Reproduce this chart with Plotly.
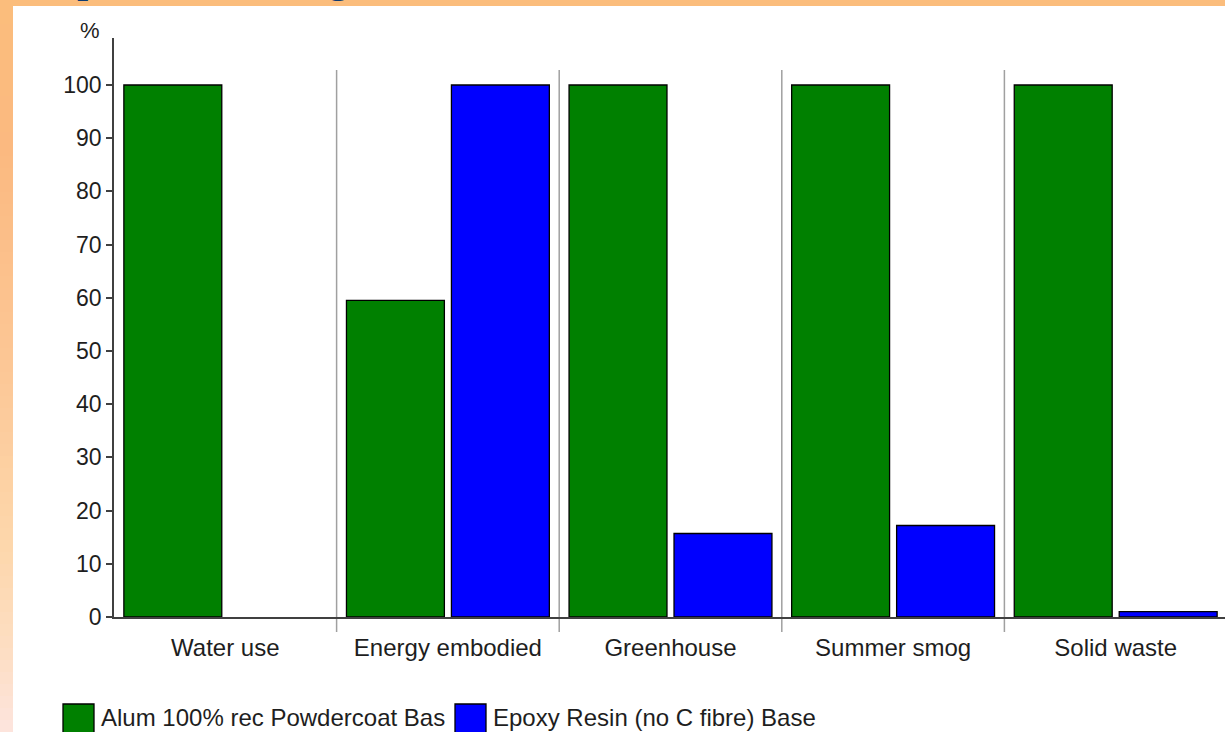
import plotly.graph_objects as go

# ---- data ----
categories = ["Water use", "Energy embodied", "Greenhouse", "Summer smog", "Solid waste"]
series_names = ["Alum 100% rec Powdercoat Base", "Epoxy Resin (no C fibre) Base"]
legend_labels = ["Alum 100% rec Powdercoat Bas", "Epoxy Resin (no C fibre) Base"]
alum_values = [100, 59.5, 100, 100, 100]
epoxy_values = [0, 100, 15.7, 17.2, 1.0]
y_ticks = [0, 10, 20, 30, 40, 50, 60, 70, 80, 90, 100]
y_axis_title = "%"

# ---- geometry / style ----
W, H = 1225, 732
L, R, T, B = 114, 0, 38, 115
PW, PH = W - L - R, H - T - B
CAT_PX = 222.6
x_range = [-0.5, -0.5 + PW / CAT_PX]
y_max = 100 * PH / 532.0
y_range = [0, y_max]

def px_x(p):
    return (p - L) / PW

def px_y(p):
    return (H - B - p) / PH

def cat_to_paper(c):
    return (c - x_range[0]) / (x_range[1] - x_range[0])

FONT = "Liberation Sans, Arial, sans-serif"
TXT = "#1e1e1e"
colors = ["#008000", "#0000FF"]

fig = go.Figure()
for name, vals, col in zip(series_names, [alum_values, epoxy_values], colors):
    fig.add_trace(go.Bar(
        x=categories, y=vals, name=name,
        marker=dict(color=col,
                    line=dict(color="#000000",
                              width=[0 if v == 0 else 1.3 for v in vals])),
        showlegend=False,
    ))

shapes = []
# category separators
for k in range(len(categories) - 1):
    xp = cat_to_paper(k + 0.5)
    shapes.append(dict(type="line", xref="paper", yref="paper",
                       x0=xp, x1=xp, y0=px_y(632), y1=px_y(70),
                       line=dict(color="#a0a0a0", width=1.5), layer="below"))

# orange slide border (top strip + left gradient strip)
shapes.append(dict(type="rect", xref="paper", yref="paper",
                   x0=px_x(0), x1=px_x(W), y0=px_y(6), y1=px_y(0),
                   fillcolor="#fbbd7c", line=dict(width=0), layer="above"))
stops = [(0, (251, 189, 124)), (150, (251, 185, 128)), (350, (252, 198, 148)),
         (550, (253, 215, 172)), (650, (253, 222, 195)), (732, (253, 228, 222))]
n = 61
for i in range(n):
    y0 = i * H / n
    y1 = (i + 1) * H / n
    ym = (y0 + y1) / 2
    for (a, ca), (b, cb) in zip(stops[:-1], stops[1:]):
        if a <= ym <= b:
            t = (ym - a) / (b - a)
            c = tuple(int(round(ca[j] + (cb[j] - ca[j]) * t)) for j in range(3))
            break
    shapes.append(dict(type="rect", xref="paper", yref="paper",
                       x0=px_x(0), x1=px_x(13), y0=px_y(y1 + 0.5), y1=px_y(y0),
                       fillcolor="rgb(%d,%d,%d)" % c, line=dict(width=0), layer="above"))

# legend swatches
sw_x = [63, 455]
for sx, col in zip(sw_x, colors):
    shapes.append(dict(type="rect", xref="paper", yref="paper",
                       x0=px_x(sx), x1=px_x(sx + 31), y0=px_y(736), y1=px_y(704),
                       fillcolor=col, line=dict(color="#000000", width=1.3), layer="above"))

annotations = []
for sx, lab in zip(sw_x, legend_labels):
    annotations.append(dict(xref="paper", yref="paper", x=px_x(sx + 36), y=px_y(718),
                            xanchor="left", yanchor="middle", text=lab, showarrow=False,
                            font=dict(family=FONT, size=24, color=TXT)))
annotations.append(dict(xref="paper", yref="paper", x=px_x(90), y=px_y(30),
                        xanchor="center", yanchor="middle", text=y_axis_title, showarrow=False,
                        font=dict(family=FONT, size=22, color=TXT)))
# descenders of slide title cut off at top
for gx, g in [(88, "p"), (338, "g")]:
    annotations.append(dict(xref="paper", yref="paper", x=px_x(gx), y=px_y(3),
                            xanchor="center", yanchor="bottom", text=g, showarrow=False,
                            font=dict(family="Liberation Serif, serif", size=46, color="#0d3a70")))

fig.update_layout(
    width=W, height=H,
    margin=dict(l=L, r=R, t=T, b=B, pad=0),
    paper_bgcolor="#ffffff", plot_bgcolor="#ffffff",
    barmode="group", bargap=0.057, bargroupgap=0.067,
    shapes=shapes, annotations=annotations,
    font=dict(family=FONT, size=24, color=TXT),
    xaxis=dict(range=x_range, showgrid=False, showline=True, linecolor="#404040",
               linewidth=1.5, ticks="", ticklabelstandoff=8, zeroline=False,
               tickfont=dict(family=FONT, size=24, color=TXT), fixedrange=True),
    yaxis=dict(range=y_range, tickvals=y_ticks, showgrid=False, showline=True,
               linecolor="#404040", linewidth=1.5, ticks="outside", ticklen=6,
               tickcolor="#404040", tickwidth=1.5, zeroline=False,
               tickfont=dict(family=FONT, size=23, color=TXT), fixedrange=True),
)

fig.write_html("out.html")
